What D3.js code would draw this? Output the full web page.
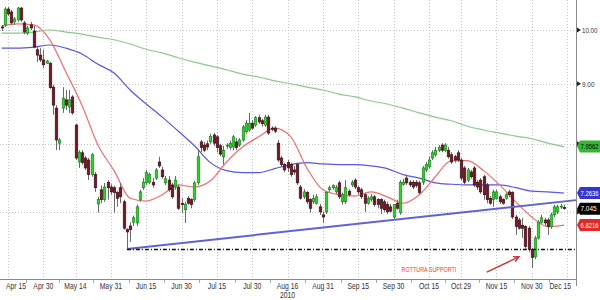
<!DOCTYPE html>
<html>
<head>
<meta charset="utf-8">
<style>
  body { margin: 0; background: #fff; }
  svg { display: block; font-family: "Liberation Sans", Arial, sans-serif; }
</style>
</head>
<body>
<svg id="chart" width="600" height="300"></svg>
<script src="https://cdn.jsdelivr.net/npm/d3@7"></script>
<script>
// one candle per weekday, 13 Apr 2010 -> 14 Dec 2010
const firstDay = new Date(2010, 3, 13);
const lastDay = new Date(2010, 11, 18);

const opens = [
  10.06,10.10,10.42,10.36,10.16,10.20,10.44,10.14,9.94,10.10,
  9.98,9.62,9.52,9.43,9.37,9.37,8.94,8.58,8.01,8.58,
  8.72,8.60,8.77,8.30,7.72,7.86,7.78,7.75,7.53,7.53,
  7.11,7.31,7.17,7.42,7.35,7.34,7.27,7.34,7.14,6.76,
  6.81,6.86,6.85,7.17,7.34,7.41,7.42,7.42,7.48,7.72,
  7.60,7.41,7.45,7.38,7.35,7.35,7.12,7.03,7.19,7.17,
  7.17,7.41,8.03,7.98,8.00,8.03,8.14,8.11,7.97,7.80,
  7.97,7.94,7.95,8.03,7.98,8.06,8.19,8.22,8.33,8.30,
  8.42,8.37,8.30,8.43,8.25,8.25,8.01,7.78,7.68,7.71,
  7.68,7.60,7.68,7.35,7.21,7.27,7.17,7.14,7.12,7.07,
  6.96,7.00,7.31,7.34,7.28,7.41,7.14,7.14,7.29,7.38,
  7.45,7.34,7.31,7.24,7.12,7.17,7.21,7.17,7.17,7.14,
  7.10,7.07,6.93,7.12,6.99,7.39,7.48,7.42,7.42,7.42,
  7.41,7.42,7.60,7.65,7.78,7.83,7.90,7.98,7.90,7.90,
  7.83,7.80,7.86,7.75,7.63,7.45,7.57,7.63,7.42,7.45,
  7.50,7.38,7.19,7.17,7.19,7.21,7.17,7.19,7.28,7.27,
  6.93,6.89,6.82,6.80,6.78,6.50,6.41,6.65,6.86,6.89,
  6.89,6.80,6.96,7.00,7.07,7.06
];
const highs = [
  10.10,10.46,10.46,10.40,10.26,10.46,10.46,10.18,10.08,10.16,
  10.08,9.67,9.65,9.62,9.43,9.39,8.98,8.63,8.09,8.94,
  8.89,8.89,8.80,8.32,7.90,7.90,7.81,7.78,7.86,7.57,
  7.21,7.37,7.41,7.45,7.39,7.37,7.29,7.41,7.17,6.78,
  6.86,6.95,7.10,7.31,7.48,7.60,7.56,7.48,7.63,7.80,
  7.65,7.51,7.51,7.41,7.51,7.38,7.19,7.14,7.22,7.19,
  7.44,7.90,8.06,8.03,8.05,8.16,8.17,8.14,8.00,7.97,
  8.01,8.05,8.14,8.09,8.09,8.30,8.38,8.50,8.38,8.45,
  8.47,8.40,8.47,8.47,8.28,8.28,8.06,7.81,7.71,7.75,
  7.71,7.66,7.71,7.38,7.32,7.29,7.19,7.24,7.25,7.11,
  7.00,7.29,7.37,7.39,7.38,7.44,7.27,7.45,7.32,7.45,
  7.48,7.37,7.34,7.27,7.22,7.25,7.24,7.19,7.19,7.17,
  7.14,7.11,7.11,7.17,7.45,7.47,7.53,7.45,7.45,7.45,
  7.44,7.66,7.72,7.80,7.90,7.95,7.98,8.01,8.01,7.95,
  7.87,7.83,7.90,7.78,7.66,7.63,7.60,7.66,7.45,7.48,
  7.53,7.41,7.22,7.31,7.31,7.24,7.19,7.27,7.31,7.29,
  6.96,6.92,6.92,6.82,6.81,6.52,6.68,6.89,6.96,6.92,
  6.92,6.99,7.10,7.10,7.11,7.10
];
const lows = [
  9.98,10.06,10.28,10.10,10.10,10.16,10.16,9.92,9.90,10.00,
  9.65,9.39,9.39,9.28,9.36,8.91,8.47,7.90,7.90,8.50,
  8.55,8.50,8.47,7.75,7.63,7.68,7.60,7.45,7.50,7.28,
  6.99,7.12,7.14,7.17,7.24,6.99,7.07,7.12,6.76,6.51,
  6.60,6.81,6.81,7.14,7.31,7.38,7.39,7.34,7.45,7.63,
  7.47,7.38,7.28,7.18,7.31,7.03,6.99,6.85,7.10,7.05,
  7.14,7.38,7.87,7.87,7.90,8.00,7.97,7.87,7.81,7.68,
  7.92,7.90,7.90,7.90,7.95,8.03,8.16,8.19,8.22,8.27,
  8.32,8.27,8.27,8.14,8.20,8.17,7.72,7.65,7.57,7.57,
  7.50,7.53,7.38,7.17,7.18,7.11,6.99,7.11,7.10,6.96,
  6.85,6.97,7.28,7.31,7.25,7.18,7.10,7.11,7.21,7.35,
  7.32,7.24,7.18,7.00,7.10,7.14,7.07,7.05,6.97,7.00,
  6.97,6.99,6.90,7.03,6.96,7.37,7.38,7.35,7.32,7.34,
  7.24,7.38,7.57,7.62,7.75,7.80,7.87,7.87,7.87,7.77,
  7.69,7.71,7.72,7.45,7.39,7.42,7.47,7.35,7.31,7.25,
  7.17,7.12,7.10,7.07,7.17,7.11,7.10,7.17,7.21,6.90,
  6.69,6.76,6.65,6.51,6.47,6.27,6.38,6.63,6.84,6.81,
  6.69,6.77,6.93,6.97,7.04,7.03
];
const closes = [
  10.04,10.42,10.32,10.14,10.22,10.44,10.20,9.96,10.04,10.04,
  9.67,9.52,9.43,9.34,9.41,8.93,8.63,8.06,8.06,8.75,
  8.63,8.72,8.50,7.78,7.87,7.71,7.63,7.53,7.83,7.34,
  7.17,7.17,7.35,7.34,7.28,7.27,7.19,7.21,6.78,6.73,
  6.76,6.92,7.07,7.28,7.42,7.56,7.53,7.38,7.60,7.66,
  7.50,7.47,7.31,7.21,7.45,7.05,7.10,7.10,7.12,7.10,
  7.41,7.80,7.94,7.90,7.95,8.12,8.01,7.94,7.84,7.90,
  7.98,8.01,8.11,7.94,8.06,8.27,8.33,8.33,8.25,8.42,
  8.35,8.32,8.43,8.17,8.23,8.20,7.75,7.68,7.60,7.63,
  7.53,7.57,7.41,7.19,7.28,7.14,7.05,7.19,7.21,7.00,
  6.93,7.27,7.34,7.37,7.34,7.21,7.24,7.34,7.24,7.42,
  7.35,7.28,7.21,7.12,7.19,7.21,7.10,7.10,7.05,7.03,
  7.00,7.01,7.10,7.05,7.42,7.42,7.41,7.38,7.35,7.37,
  7.27,7.63,7.68,7.75,7.86,7.90,7.94,7.90,7.98,7.80,
  7.72,7.75,7.75,7.48,7.42,7.60,7.50,7.38,7.35,7.28,
  7.24,7.17,7.12,7.28,7.28,7.14,7.12,7.24,7.24,6.93,
  6.80,6.78,6.78,6.54,6.50,6.40,6.65,6.86,6.92,6.85,
  6.80,6.96,7.07,7.07,7.08,7.045
];

// moving averages every 5th trading day
const maStep = 5;
const maRed = [10.08,10.12,10.10,9.81,9.21,8.63,7.98,7.59,7.19,7.15,7.24,7.38,7.35,7.44,7.72,7.95,8.11,8.25,
  8.11,7.63,7.31,7.24,7.22,7.28,7.21,7.12,7.24,7.50,7.74,7.74,7.59,7.38,7.14,6.93,6.80,6.8216];
const maBlue = [9.65,9.65,9.67,9.71,9.65,9.54,9.35,9.19,8.89,8.65,8.43,8.20,7.97,7.71,7.59,7.56,7.56,7.62,
  7.68,7.71,7.69,7.68,7.68,7.66,7.62,7.53,7.48,7.41,7.39,7.38,7.38,7.38,7.34,7.29,7.28,7.2636];
const maGreen = [9.94,9.94,9.96,10.00,9.96,9.92,9.86,9.81,9.73,9.63,9.56,9.47,9.39,9.32,9.25,9.17,9.12,9.05,
  9.00,8.94,8.89,8.82,8.77,8.70,8.65,8.58,8.50,8.43,8.37,8.28,8.22,8.17,8.12,8.08,8.01,7.9562];

const tickDates = ["2010-04-15","2010-04-30","2010-05-14","2010-05-31","2010-06-15","2010-06-30","2010-07-15",
  "2010-07-30","2010-08-16","2010-08-31","2010-09-15","2010-09-30","2010-10-15","2010-10-29","2010-11-15",
  "2010-11-30","2010-12-15"];
const tickLabels = ["Apr 15","Apr 30","May 14","May 31","Jun 15","Jun 30","Jul 15","Jul 30","Aug 16",
  "Aug 31","Sep 15","Sep 30","Oct 15","Oct 29","Nov 15","Nov 30","Dec 15"];
const yearLabel = {date: "2010-08-16", text: "2010"};
const yTicks = [7, 8, 9, 10];

// last value tags: green, blue, last price, red
const tagValues = [7.9562, 7.2636, 7.045, 6.8216];
const tagLabels = ["7.9562", "7.2636", "7.045", "6.8216"];

// support trendline and horizontal support
const trendA = ["2010-06-07", 6.51];
const trendB = ["2010-12-15", 7.15];
const support = ["2010-06-07", 6.51];

const noteText = "ROTTURA SUPPORTI";
const noteAt = ["2010-10-15", 6.25];
const arrowFrom = ["2010-11-10", 6.22];
const arrowTo = ["2010-11-24", 6.41];

// ---------------------------------------------------------------
const svg = d3.select("#chart");
const plotRight = 576, plotBottom = 279;
const parse = d3.timeParse("%Y-%m-%d");

const days = d3.timeDay.range(firstDay, lastDay).filter(d => d.getDay() % 6 !== 0);
const dayIndex = new Map(days.map((d, i) => [+d, i]));
const idx = s => dayIndex.get(+parse(s));

const x = d3.scaleLinear().domain([0, closes.length - 1]).range([1.6, 563.9]);
const y = d3.scaleLog().domain([6.137, 10.606]).range([plotBottom, 0]);

// narrow the text like the terminal font, never wider than maxW
function squeeze(sel, k, maxW = Infinity) {
  sel.each(function() {
    const w = this.getComputedTextLength();
    this.setAttribute("textLength", Math.min(w * k, maxW));
    this.setAttribute("lengthAdjust", "spacingAndGlyphs");
  });
}
// same for right-edge texts, done with a transform so the box shrinks too
function narrowAt(sel, x0, k, maxW) {
  sel.each(function() {
    const t = d3.select(this);
    const y0 = +t.attr("y") || 0;
    const w = this.getComputedTextLength();
    const s = Math.min(k, maxW / w);
    t.attr("x", 0).attr("y", 0).attr("transform", `translate(${x0},${y0}) scale(${s},1)`);
  });
}

// grid
const grid = svg.append("g").attr("stroke", "#c4c4c4").attr("stroke-dasharray", "1,2");
grid.selectAll("line.v").data(tickDates).join("line")
  .attr("x1", d => Math.round(x(idx(d))) + 0.5).attr("x2", d => Math.round(x(idx(d))) + 0.5)
  .attr("y1", 0).attr("y2", plotBottom);
grid.selectAll("line.h").data(yTicks).join("line")
  .attr("x1", 0).attr("x2", plotRight)
  .attr("y1", d => Math.round(y(d)) + 0.5).attr("y2", d => Math.round(y(d)) + 0.5);

// axes frame
svg.append("line").attr("x1", plotRight + 0.5).attr("x2", plotRight + 0.5).attr("y1", 0).attr("y2", 286)
  .attr("stroke", "#8a8a8a");
svg.append("line").attr("x1", 0).attr("x2", plotRight).attr("y1", plotBottom + 0.5).attr("y2", plotBottom + 0.5)
  .attr("stroke", "#8a8a8a");

// minor ticks half way between labels
const mids = d3.pairs(tickDates.map(idx)).map(([a, b]) => (a + b) / 2);
svg.append("g").attr("stroke", "#aaa").selectAll("line").data(mids).join("line")
  .attr("x1", d => Math.round(x(d)) + 0.5).attr("x2", d => Math.round(x(d)) + 0.5)
  .attr("y1", plotBottom + 1).attr("y2", plotBottom + 4);

// x labels
const xl = svg.append("g").attr("font-size", 8.5).attr("fill", "#333").attr("text-anchor", "middle");
xl.selectAll("text").data(tickDates).join("text")
  .attr("x", d => x(idx(d))).attr("y", 289)
  .text((d, i) => tickLabels[i])
  .call(squeeze, 0.8)
  .each(function() {
    const w = +this.getAttribute("textLength");
    const cx = +this.getAttribute("x");
    this.setAttribute("x", Math.min(Math.max(cx, 6 + w / 2), 571 - w / 2));
  });
xl.append("text").attr("x", x(idx(yearLabel.date))).attr("y", 298).text(yearLabel.text).call(squeeze, 0.8);

// y labels with small markers (the ones under a value tag stay hidden)
const yShown = yTicks.filter(v => tagValues.every(t => Math.abs(y(t) - y(v)) > 8));
const yl = svg.append("g").attr("font-size", 8).attr("fill", "#333");
yl.selectAll("path").data(yTicks).join("path")
  .attr("d", d => `M${plotRight + 1},${y(d) - 2.5}L${plotRight + 5},${y(d)}L${plotRight + 1},${y(d) + 2.5}Z`)
  .attr("fill", "#222");
yl.selectAll("text").data(yShown).join("text")
  .attr("y", d => y(d)).attr("dy", "0.35em")
  .text(d => d3.format(".2f")(d))
  .call(narrowAt, plotRight + 6, 0.8, 15.5);

// moving averages
const maLine = d3.line().x((d, i) => x(i * maStep)).y(d => y(d)).curve(d3.curveMonotoneX);
[[maGreen, "#8cc98c"], [maBlue, "#5858e0"], [maRed, "#ee6f6f"]].forEach(([s, c]) => {
  svg.append("path").datum(s).attr("d", maLine).attr("fill", "none").attr("stroke", c).attr("stroke-width", 1.2);
});

// candles
const candles = svg.append("g");
const cw = 2.6;
candles.selectAll("line").data(closes).join("line")
  .attr("x1", (d, i) => Math.round(x(i)) + 0.5).attr("x2", (d, i) => Math.round(x(i)) + 0.5)
  .attr("y1", (d, i) => y(highs[i])).attr("y2", (d, i) => y(lows[i]))
  .attr("stroke", "#6a6a6a");
candles.selectAll("rect").data(closes).join("rect")
  .attr("x", (d, i) => Math.round(x(i)) + 0.5 - cw / 2)
  .attr("width", cw)
  .attr("y", (d, i) => y(Math.max(opens[i], d)))
  .attr("height", (d, i) => Math.max(1, Math.abs(y(opens[i]) - y(d))))
  .attr("fill", (d, i) => d >= opens[i] ? "#2fd12f" : "#6b1d29")
  .attr("stroke", (d, i) => d >= opens[i] ? "#1d7a1d" : "#3b0c12")
  .attr("stroke-width", 0.6);

// trendline (straight on the log chart) extended to the axis
const ia = idx(trendA[0]), ib = idx(trendB[0]);
const trendAt = i => Math.exp(Math.log(trendA[1]) + (Math.log(trendB[1]) - Math.log(trendA[1])) * (i - ia) / (ib - ia));
const iEnd = x.invert(plotRight);
svg.append("line")
  .attr("x1", x(ia)).attr("y1", y(trendA[1]))
  .attr("x2", x(iEnd)).attr("y2", y(trendAt(iEnd)))
  .attr("stroke", "#6262d2").attr("stroke-width", 2);

// support level
svg.append("line")
  .attr("x1", x(idx(support[0]))).attr("x2", plotRight)
  .attr("y1", Math.round(y(support[1])) + 0.5).attr("y2", Math.round(y(support[1])) + 0.5)
  .attr("stroke", "#111").attr("stroke-width", 1.3).attr("stroke-dasharray", "4,2,1,2");

// annotation
svg.append("text")
  .attr("x", x(idx(noteAt[0]))).attr("y", y(noteAt[1])).attr("dy", "0.35em")
  .attr("text-anchor", "middle").attr("font-size", 7.5).attr("fill", "#e8403a")
  .text(noteText)
  .call(squeeze, 0.72);
const ax1 = x(idx(arrowFrom[0])), ay1 = y(arrowFrom[1]);
const ax2 = x(idx(arrowTo[0])), ay2 = y(arrowTo[1]);
const ang = Math.atan2(ay2 - ay1, ax2 - ax1);
svg.append("line").attr("x1", ax1).attr("y1", ay1).attr("x2", ax2).attr("y2", ay2)
  .attr("stroke", "#c8393d").attr("stroke-width", 1.5);
svg.append("path")
  .attr("d", `M${ax2 - 6 * Math.cos(ang - 0.45)},${ay2 - 6 * Math.sin(ang - 0.45)}L${ax2},${ay2}L${ax2 - 6 * Math.cos(ang + 0.45)},${ay2 - 6 * Math.sin(ang + 0.45)}`)
  .attr("fill", "none").attr("stroke", "#c8393d").attr("stroke-width", 1.5);

// last value tags
const tagFill = ["#35b935", "#3535d0", "#000000", "#e02a2a"];
const tagText = ["#000", "#fff", "#fff", "#fff"];
const tags = svg.append("g").selectAll("g").data(tagValues).join("g")
  .attr("transform", d => `translate(0,${y(d)})`);
tags.append("path")
  .attr("d", `M${plotRight + 1},0L${plotRight + 4},-6L600,-6L600,6L${plotRight + 4},6Z`)
  .attr("fill", (d, i) => tagFill[i]);
tags.append("text")
  .attr("dy", "0.35em").attr("font-size", 8)
  .attr("fill", (d, i) => tagText[i])
  .text((d, i) => tagLabels[i])
  .call(narrowAt, plotRight + 4.5, 0.8, 18);
</script>
</body>
</html>
